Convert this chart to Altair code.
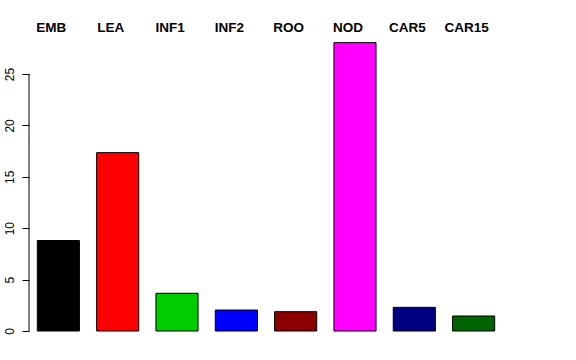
import altair as alt
import pandas as pd

tissues = ["EMB", "LEA", "INF1", "INF2", "ROO", "NOD", "CAR5", "CAR15"]
values = [8.8, 17.35, 3.67, 2.04, 1.88, 28.05, 2.3, 1.46]
colors = ["#000000", "#FF0000", "#00CD00", "#0000FF", "#8B0000", "#FF00FF", "#000080", "#006400"]
y_ticks = [0, 5, 10, 15, 20, 25]

df = pd.DataFrame({"tissue": tissues, "value": values})
yscale = alt.Scale(domain=[0, 28.5], nice=False, zero=True)

bars = alt.Chart(df).mark_bar(stroke="black", strokeWidth=1, opacity=1).encode(
    x=alt.X("tissue:N", sort=tissues,
            scale=alt.Scale(paddingInner=0.29, paddingOuter=0.14),
            axis=alt.Axis(orient="top", title=None, domain=False, ticks=False,
                          labelAngle=0, labelFontWeight="bold", labelFontSize=13.5,
                          labelFont="Liberation Sans", labelColor="black",
                          labelPadding=4, labelOffset=-7)),
    y=alt.Y("value:Q", scale=yscale,
            axis=alt.Axis(values=y_ticks, domain=False, grid=False, title=None,
                          labelAngle=-90, tickSize=7, tickColor="black",
                          labelFontSize=12, labelFont="Liberation Sans",
                          labelColor="black", labelPadding=6)),
    color=alt.Color("tissue:N", scale=alt.Scale(domain=tissues, range=colors), legend=None),
)

axis_line = alt.Chart(pd.DataFrame({"lo": [0], "hi": [25]})).mark_rule(
    color="black", strokeWidth=1).encode(
    x=alt.value(0), y=alt.Y("lo:Q", scale=yscale), y2="hi:Q")

chart = alt.layer(bars, axis_line).properties(
    width=474, height=293,
    autosize=alt.AutoSizeParams(type="none"),
    padding={"left": 29, "top": 38, "right": 73, "bottom": 29},
    background="white",
).configure_view(stroke=None)

chart.save("out.html", embed_options={"renderer": "svg", "actions": False})
